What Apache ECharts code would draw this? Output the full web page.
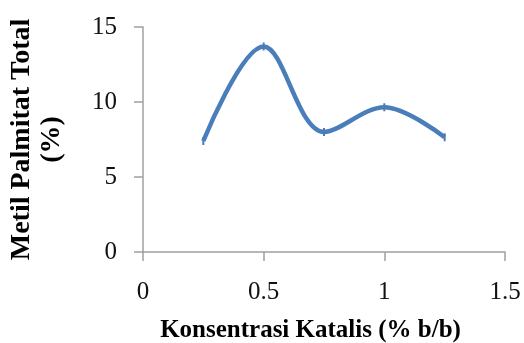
<!DOCTYPE html>
<html>
<head>
<meta charset="utf-8">
<script src="https://cdn.jsdelivr.net/npm/echarts@6/dist/echarts.min.js"></script>
<style>
  html, body { margin: 0; padding: 0; background: #fff; }
  #chart { width: 524px; height: 343px; }
</style>
</head>
<body>
<div id="chart"></div>
<script>
// Catalyst concentration (% b/b) and total methyl palmitate (%)
const konsentrasi = [0.25, 0.5, 0.75, 1.0, 1.25];
const metilPalmitat = [7.4, 13.7, 8.0, 9.65, 7.65];
const xTicks = [0, 0.5, 1, 1.5];
const yTicks = [0, 5, 10, 15];

const serif = '"Liberation Serif", "DejaVu Serif", serif';
const axisGray = '#a0a0a0';

const chart = echarts.init(document.getElementById('chart'), null, { renderer: 'canvas' });
chart.setOption({
  animation: false,
  backgroundColor: '#ffffff',
  grid: { left: 143, right: 19, top: 27, bottom: 91, containLabel: false, outerBoundsMode: 'none' },
  xAxis: {
    type: 'value',
    min: xTicks[0],
    max: xTicks[xTicks.length - 1],
    interval: xTicks[1] - xTicks[0],
    splitLine: { show: false },
    axisLine: { show: true, lineStyle: { color: axisGray, width: 1.5 } },
    axisTick: { show: true, inside: false, length: 9, lineStyle: { color: axisGray, width: 1.5 } },
    axisLabel: {
      margin: 28, color: '#111', fontFamily: serif, fontSize: 25,
      formatter: v => String(v)
    },
    name: 'Konsentrasi Katalis (% b/b)',
    nameLocation: 'middle',
    nameGap: 66,
    nameTextStyle: { color: '#000', fontFamily: serif, fontSize: 25, fontWeight: 'bold', padding: [0, 27, 0, 0] }
  },
  yAxis: {
    type: 'value',
    min: yTicks[0],
    max: yTicks[yTicks.length - 1],
    interval: yTicks[1] - yTicks[0],
    splitLine: { show: false },
    axisLine: { show: true, lineStyle: { color: axisGray, width: 1.5 } },
    axisTick: { show: true, inside: false, length: 9, lineStyle: { color: axisGray, width: 1.5 } },
    axisLabel: { margin: 26, color: '#111', fontFamily: serif, fontSize: 25 },
    name: 'Metil Palmitat Total\n(%)',
    nameLocation: 'middle',
    nameGap: 76,
    nameRotate: 90,
    nameTextStyle: { color: '#000', fontFamily: serif, fontSize: 28, fontWeight: 'bold', lineHeight: 30, align: 'center' }
  },
  series: [{
    type: 'line',
    data: konsentrasi.map((x, i) => [x, metilPalmitat[i]]),
    smooth: 0.35,
    symbol: 'rect',
    symbolSize: [2, 8],
    itemStyle: { color: '#4a7ebb' },
    lineStyle: { color: '#4a7ebb', width: 4.5 }
  }]
});
</script>
</body>
</html>
